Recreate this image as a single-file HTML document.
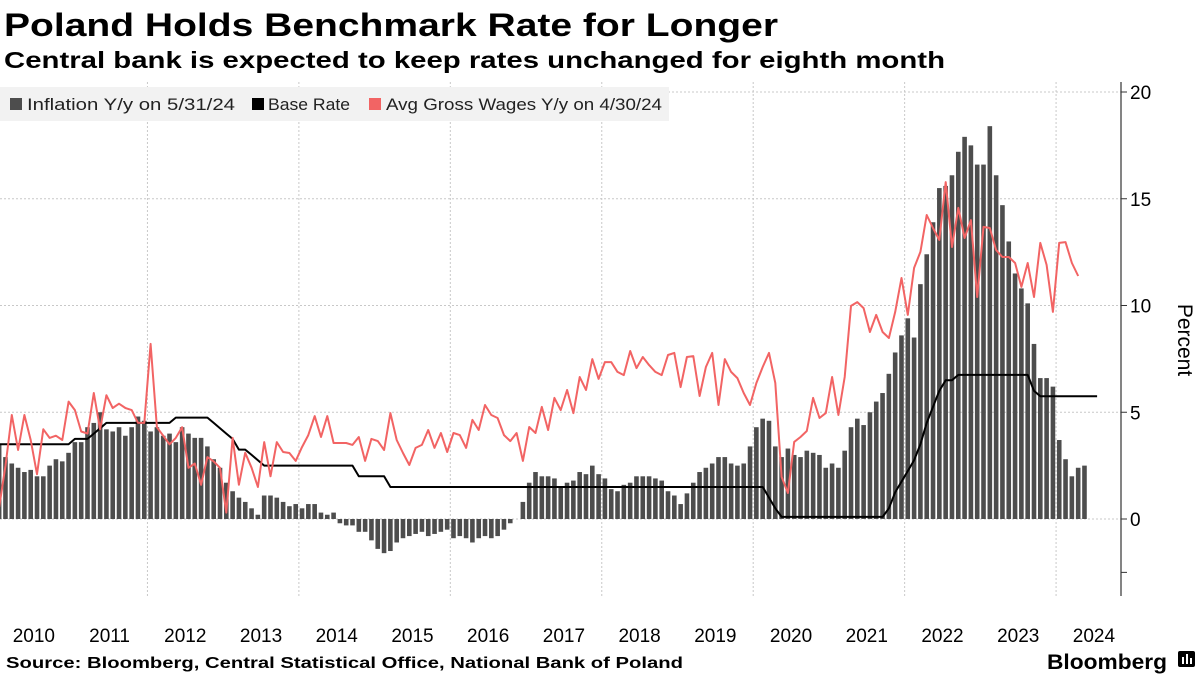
<!DOCTYPE html>
<html><head><meta charset="utf-8"><style>
html,body{margin:0;padding:0;background:#fff;width:1200px;height:675px;overflow:hidden}
svg text{font-family:"Liberation Sans",sans-serif}
</style></head><body>
<svg id="chart" width="1200" height="675" viewBox="0 0 1200 675" xmlns="http://www.w3.org/2000/svg">
<text x="4" y="36" font-size="32" font-weight="bold" fill="#000" textLength="774" lengthAdjust="spacingAndGlyphs">Poland Holds Benchmark Rate for Longer</text>
<text x="4" y="68" font-size="23" font-weight="bold" fill="#000" textLength="941" lengthAdjust="spacingAndGlyphs">Central bank is expected to keep rates unchanged for eighth month</text>
<g id="grid"></g>
<g id="bars"></g>
<g id="lines"></g>
<g id="axis"></g>
<g id="xaxis"></g>
<g>
<rect x="0" y="87" width="669" height="34" fill="#f2f2f2"/>
<rect x="10" y="98" width="12" height="12" fill="#4d4d4d"/>
<text x="27" y="110" font-size="17" fill="#222" textLength="208" lengthAdjust="spacingAndGlyphs">Inflation Y/y on 5/31/24</text>
<rect x="252" y="98" width="12" height="12" fill="#000"/>
<text x="268" y="110" font-size="17" fill="#222" textLength="82" lengthAdjust="spacingAndGlyphs">Base Rate</text>
<rect x="369" y="98" width="12" height="12" fill="#f26464"/>
<text x="386" y="110" font-size="17" fill="#222" textLength="276" lengthAdjust="spacingAndGlyphs">Avg Gross Wages Y/y on 4/30/24</text>
</g>
<text transform="translate(1178,340) rotate(90)" text-anchor="middle" font-size="21" fill="#000">Percent</text>
<text x="6" y="668" font-size="16" font-weight="bold" fill="#000" textLength="677" lengthAdjust="spacingAndGlyphs">Source: Bloomberg, Central Statistical Office, National Bank of Poland</text>
<text x="1047" y="669" font-size="21" font-weight="bold" fill="#000" textLength="120" lengthAdjust="spacingAndGlyphs">Bloomberg</text>
<g>
<rect x="1178" y="651" width="17" height="16" rx="2" fill="#000"/>
<rect x="1182" y="657" width="2" height="7" fill="#fff"/><rect x="1186" y="654" width="2" height="10" fill="#fff"/><rect x="1190" y="658" width="2" height="6" fill="#fff"/>
</g>
</svg>
<script>
const inflation = [3.5,2.9,2.6,2.4,2.2,2.3,2.0,2.0,2.5,2.8,2.7,3.1,
3.6,3.6,4.3,4.5,5.0,4.2,4.1,4.3,3.9,4.3,4.8,4.6,
4.1,4.3,3.9,4.0,3.6,4.3,4.0,3.8,3.8,3.4,2.8,2.4,
1.7,1.3,1.0,0.8,0.5,0.2,1.1,1.1,1.0,0.8,0.6,0.7,
0.5,0.7,0.7,0.3,0.2,0.3,-0.2,-0.3,-0.3,-0.6,-0.6,-1.0,
-1.4,-1.6,-1.5,-1.1,-0.9,-0.8,-0.7,-0.6,-0.8,-0.7,-0.6,-0.5,
-0.9,-0.8,-0.9,-1.1,-0.9,-0.8,-0.9,-0.8,-0.5,-0.2,0.0,0.8,
1.7,2.2,2.0,2.0,1.9,1.5,1.7,1.8,2.2,2.1,2.5,2.1,
1.9,1.4,1.3,1.6,1.7,2.0,2.0,2.0,1.9,1.8,1.3,1.1,
0.7,1.2,1.7,2.2,2.4,2.6,2.9,2.9,2.6,2.5,2.6,3.4,
4.3,4.7,4.6,3.4,2.9,3.3,3.0,2.9,3.2,3.1,3.0,2.4,
2.6,2.4,3.2,4.3,4.7,4.4,5.0,5.5,5.9,6.8,7.8,8.6,
9.4,8.5,11.0,12.4,13.9,15.5,15.6,16.1,17.2,17.9,17.5,16.6,
16.6,18.4,16.1,14.7,13.0,11.5,10.8,10.1,8.2,6.6,6.6,6.2,
3.7,2.8,2.0,2.4,2.5];
const baseRate = [3.5,3.5,3.5,3.5,3.5,3.5,3.5,3.5,3.5,3.5,3.5,3.5,
3.75,3.75,3.75,4.0,4.25,4.5,4.5,4.5,4.5,4.5,4.5,4.5,
4.5,4.5,4.5,4.5,4.75,4.75,4.75,4.75,4.75,4.75,4.5,4.25,
4.0,3.75,3.25,3.25,3.0,2.75,2.5,2.5,2.5,2.5,2.5,2.5,
2.5,2.5,2.5,2.5,2.5,2.5,2.5,2.5,2.5,2.0,2.0,2.0,
2.0,2.0,1.5,1.5,1.5,1.5,1.5,1.5,1.5,1.5,1.5,1.5,
1.5,1.5,1.5,1.5,1.5,1.5,1.5,1.5,1.5,1.5,1.5,1.5,
1.5,1.5,1.5,1.5,1.5,1.5,1.5,1.5,1.5,1.5,1.5,1.5,
1.5,1.5,1.5,1.5,1.5,1.5,1.5,1.5,1.5,1.5,1.5,1.5,
1.5,1.5,1.5,1.5,1.5,1.5,1.5,1.5,1.5,1.5,1.5,1.5,
1.5,1.5,1.0,0.5,0.1,0.1,0.1,0.1,0.1,0.1,0.1,0.1,
0.1,0.1,0.1,0.1,0.1,0.1,0.1,0.1,0.1,0.5,1.25,1.75,
2.25,2.75,3.5,4.5,5.25,6.0,6.5,6.5,6.75,6.75,6.75,6.75,
6.75,6.75,6.75,6.75,6.75,6.75,6.75,6.75,6.0,5.75,5.75,5.75,
5.75,5.75,5.75,5.75,5.75,5.75,5.75];
const wages = [0.56,2.5,4.87,3.23,4.87,3.7,2.1,4.2,3.8,3.9,3.7,5.5,
5.1,4.1,4.0,5.9,4.2,5.8,5.2,5.4,5.2,5.1,4.5,4.5,
8.2,4.3,3.9,3.5,3.8,4.3,2.4,2.6,1.6,2.9,2.7,2.4,
0.3,3.8,1.6,3.1,2.4,1.5,3.6,2.0,3.6,3.14,3.09,2.72,
3.37,3.93,4.82,3.84,4.82,3.56,3.56,3.56,3.47,3.84,2.72,3.75,
3.65,3.23,4.96,3.7,3.09,2.53,3.33,3.47,4.17,3.33,4.03,3.14,
4.03,3.93,3.33,4.64,4.17,5.34,4.87,4.73,3.93,3.65,4.03,2.72,
4.31,4.03,5.25,4.17,5.67,5.1,6.04,4.96,6.65,6.04,7.49,6.56,
7.35,7.35,6.89,6.74,7.87,7.07,7.59,7.21,6.89,6.74,7.68,7.78,
6.18,7.59,7.63,5.76,7.12,7.78,5.34,7.49,6.89,6.6,5.9,5.34,
6.37,7.12,7.78,6.37,1.97,1.22,3.61,3.84,4.12,5.67,4.73,4.96,
6.65,4.87,6.65,9.98,10.16,9.88,8.76,9.56,8.76,8.48,9.7,11.29,
9.56,11.76,12.51,14.24,13.63,13.07,15.78,12.74,14.57,13.16,14.0,10.4,
13.68,13.63,12.6,12.27,12.27,11.99,10.87,11.99,10.4,12.93,11.9,9.7,
12.93,12.97,11.99,11.38];
const yTicks = [0,5,10,15,20];
const yearLabels = ["2010","2011","2012","2013","2014","2015","2016","2017","2018","2019","2020","2021","2022","2023","2024"];
const gridYears = [2012,2014,2016,2018,2020,2022,2024];

const NS="http://www.w3.org/2000/svg";
const X0=-4, MW=6.31, Y0=519, PU=21.35, AXX=1121;
function xm(i){return X0+MW*(i+0.5);}
function xy(year){return X0+MW*(year-2010)*12;}
function yv(v){return Y0-v*PU;}
function mk(tag,attrs,parent){const e=document.createElementNS(NS,tag);for(const k in attrs)e.setAttribute(k,attrs[k]);parent.appendChild(e);return e;}

const grid=document.getElementById('grid');
yTicks.forEach(t=>{
  const l=mk('line',{x1:0,x2:AXX,y1:yv(t),y2:yv(t),stroke:'#c8c8c8','stroke-dasharray':'2,2'},grid);
  
  
});
gridYears.forEach(yr=>{
  const l=mk('line',{x1:xy(yr),x2:xy(yr),y1:82,y2:598,stroke:'#c8c8c8','stroke-dasharray':'2,2'},grid);
  
  
});

const bars=document.getElementById('bars');
inflation.forEach((v,i)=>{
  const y=Math.min(yv(v),Y0), h=Math.abs(yv(v)-Y0);
  const r=mk('rect',{x:xm(i)-2.3,y:y,width:4.6,height:Math.max(h,0.01),fill:'#4d4d4d'},bars);
  
  
});

const lines=document.getElementById('lines');
const bp=baseRate.map((v,i)=>xm(i).toFixed(1)+','+yv(v).toFixed(1)).join(' ');
const bl=mk('polyline',{points:bp,fill:'none',stroke:'#000','stroke-width':2,'stroke-linejoin':'round'},lines);


const wp=wages.map((v,i)=>xm(i).toFixed(1)+','+yv(v).toFixed(1)).join(' ');
const wl=mk('polyline',{points:wp,fill:'none',stroke:'#f26464','stroke-width':2,'stroke-linejoin':'round'},lines);



const axis=document.getElementById('axis');
const al=mk('line',{x1:AXX,x2:AXX,y1:82,y2:596,stroke:'#333','stroke-width':1.2},axis);


yTicks.concat([-2.5]).forEach(t=>{
  const tk=mk('line',{x1:AXX,x2:AXX+6,y1:yv(t),y2:yv(t),stroke:'#333'},axis);
  
  
});
yTicks.forEach(t=>{
  const tx=mk('text',{x:1130,y:yv(t)+7,'font-size':19,fill:'#000'},axis);
  tx.textContent=String(t);
  
  
});
const xaxis=document.getElementById('xaxis');
yearLabels.forEach((lab,i)=>{
  const tx=mk('text',{x:xy(2010+i)+6*MW,y:642,'font-size':19,fill:'#000','text-anchor':'middle'},xaxis);
  tx.textContent=lab;
  
  
});
</script>
</body></html>
